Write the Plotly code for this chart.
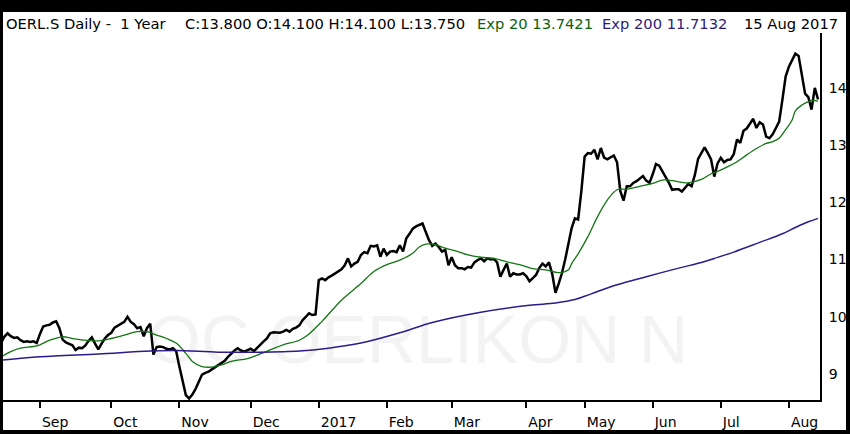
import pandas as pd
import plotly.graph_objects as go

# SIX trading days, 16 Aug 2016 - 15 Aug 2017
holidays = ["2016-12-26", "2017-01-02", "2017-04-14", "2017-04-17",
            "2017-05-01", "2017-05-25", "2017-06-05", "2017-08-01"]
days = pd.bdate_range("2016-08-16", "2017-08-15")
days = days[~days.isin(pd.to_datetime(holidays))]
dates = [d.strftime("%Y-%m-%d") for d in days]

# daily close (one list per month)
close_aug16 = [9.54, 9.65, 9.71, 9.66, 9.63, 9.64, 9.59, 9.56, 9.57, 9.56, 9.57, 9.54]
close_sep = [9.70, 9.83, 9.85, 9.86, 9.90, 9.92, 9.80, 9.60, 9.55, 9.53, 9.50, 9.42,
             9.46, 9.45, 9.50, 9.58, 9.64, 9.53, 9.43, 9.53, 9.62, 9.68]
close_oct = [9.72, 9.81, 9.84, 9.87, 9.91, 10.00, 9.91, 9.87, 9.80, 9.82, 9.66, 9.80,
             9.88, 9.34, 9.47, 9.48, 9.47, 9.44, 9.43, 9.45, 9.40]
close_nov = [9.13, 8.88, 8.63, 8.57, 8.64, 8.74, 8.86, 8.99, 9.02, 9.04, 9.08, 9.12,
             9.16, 9.20, 9.23, 9.30, 9.36, 9.41, 9.45, 9.41, 9.39, 9.42]
close_dec = [9.44, 9.40, 9.46, 9.52, 9.57, 9.62, 9.71, 9.73, 9.72, 9.72, 9.74, 9.77,
             9.74, 9.79, 9.81, 9.85, 9.94, 10.00, 10.06, 10.03, 10.04]
close_jan = [10.64, 10.67, 10.64, 10.69, 10.72, 10.76, 10.80, 10.83, 10.90, 11.02, 10.88,
             10.93, 10.96, 11.08, 11.13, 11.11, 11.24, 11.23, 11.25, 11.05, 11.19]
close_feb = [11.08, 11.14, 11.15, 11.13, 11.25, 11.14, 11.37, 11.45, 11.54, 11.58, 11.61,
             11.63, 11.48, 11.34, 11.24, 11.28, 11.22, 11.14, 11.17, 10.90]
close_mar = [11.04, 10.90, 10.85, 10.85, 10.83, 10.87, 10.86, 10.95, 10.99, 11.02, 10.97,
             11.02, 11.00, 11.01, 10.95, 10.70, 10.82, 10.93, 10.70, 10.76, 10.74, 10.74, 10.76]
close_apr = [10.71, 10.62, 10.68, 10.73, 10.85, 10.93, 10.88, 10.95, 10.75, 10.42, 10.58,
             10.76, 11.00, 11.30, 11.55, 11.72, 11.70, 12.20]
close_may = [12.80, 12.86, 12.85, 12.92, 12.75, 12.95, 12.78, 12.75, 12.78, 12.82, 12.70,
             12.20, 12.03, 12.28, 12.28, 12.34, 12.37, 12.42, 12.46, 12.38, 12.34]
close_jun = [12.49, 12.67, 12.64, 12.55, 12.44, 12.34, 12.22, 12.23, 12.23, 12.19, 12.26,
             12.32, 12.28, 12.48, 12.76, 12.85, 12.96, 12.86, 12.75, 12.45, 12.68]
close_jul = [12.78, 12.70, 12.74, 12.75, 12.84, 13.10, 13.04, 13.25, 13.29, 13.38, 13.46,
             13.30, 13.40, 13.36, 13.15, 13.12, 13.19, 13.30, 13.41, 13.79, 14.20]
close_aug17 = [14.37, 14.49, 14.60, 14.56, 14.25, 13.90, 13.84, 13.62, 14.00, 13.80]

close = (close_aug16 + close_sep + close_oct + close_nov + close_dec + close_jan
         + close_feb + close_mar + close_apr + close_may + close_jun + close_jul
         + close_aug17)

# moving averages, read at sampled trading days (index into dates)
ema20_day = [0, 3, 6, 10, 12, 15, 19, 22, 26, 30, 34, 38, 42, 45, 48, 51, 54, 57, 59, 62,
             65, 68, 71, 76, 79, 83, 87, 92, 95, 99, 105, 111, 115, 119, 123, 127, 129,
             131, 134, 137, 141, 144, 148, 152, 156, 160, 164, 168, 172, 175, 176, 178,
             181, 184, 187, 190, 193, 197, 201, 204, 207, 210, 212, 216, 219, 221, 224,
             227, 230, 233, 236, 238, 240, 242, 244, 245, 247, 249, 250, 252]
ema20 = [9.30, 9.39, 9.45, 9.48, 9.51, 9.59, 9.65, 9.62, 9.59, 9.58, 9.62, 9.68, 9.74, 9.74,
         9.68, 9.62, 9.54, 9.36, 9.22, 9.13, 9.12, 9.16, 9.22, 9.27, 9.33, 9.42, 9.51, 9.59,
         9.70, 9.92, 10.29, 10.58, 10.79, 10.91, 10.99, 11.11, 11.22, 11.27, 11.26, 11.20,
         11.14, 11.08, 11.04, 11.02, 10.96, 10.91, 10.84, 10.82, 10.77, 10.82, 10.93, 11.10,
         11.40, 11.75, 12.04, 12.22, 12.23, 12.28, 12.33, 12.39, 12.38, 12.35, 12.34, 12.40,
         12.50, 12.54, 12.62, 12.71, 12.83, 12.94, 13.03, 13.06, 13.12, 13.27, 13.44, 13.60,
         13.70, 13.76, 13.78, 13.77]

ema200_day = [0, 12, 30, 46, 54, 67, 78, 92, 101, 111, 123, 133, 148, 163, 171, 177, 182,
              190, 199, 209, 216, 220, 226, 234, 241, 245, 249, 252]
ema200 = [9.24, 9.30, 9.35, 9.40, 9.41, 9.38, 9.38, 9.40, 9.45, 9.54, 9.72, 9.90, 10.08,
          10.20, 10.24, 10.30, 10.40, 10.56, 10.70, 10.85, 10.95, 11.02, 11.13, 11.30, 11.45,
          11.56, 11.66, 11.72]

month_labels = ["Sep", "Oct", "Nov", "Dec", "2017", "Feb", "Mar", "Apr", "May", "Jun", "Jul", "Aug"]
month_starts = (pd.Series(days, index=days).groupby(days.to_period("M")).first()
                .dt.strftime("%Y-%m-%d").tolist()[1:])
y_ticks = [9, 10, 11, 12, 13, 14]

W, H = 850, 434
L, R, T, B = 3, 30, 33, 34
pw, ph = W - L - R, H - T - B


def px(x):
    return (x - L) / pw


def py(y):
    return (H - B - y) / ph


font = "DejaVu Sans"

fig = go.Figure()
fig.add_trace(go.Scatter(x=dates, y=close, mode="lines",
                         line=dict(color="#000000", width=2.5)))
fig.add_trace(go.Scatter(x=[dates[i] for i in ema20_day], y=ema20, mode="lines",
                         line=dict(color="#137513", width=1.3, shape="spline")))
fig.add_trace(go.Scatter(x=[dates[i] for i in ema200_day], y=ema200, mode="lines",
                         line=dict(color="#2e1a8c", width=1.5, shape="spline")))

header = [
    ("OERL.S Daily -  1 Year", 4, "#000000"),
    ("C:13.800 O:14.100 H:14.100 L:13.750", 183, "#000000"),
    ("Exp 20 13.7421", 475, "#0b610b"),
    ("Exp 200 11.7132", 600, "#2e1a7a"),
    ("15 Aug 2017", 742, "#000000"),
]
for text, x, col in header:
    fig.add_annotation(text=text, x=px(x), y=py(24), xref="paper", yref="paper",
                       xanchor="left", yanchor="middle", showarrow=False,
                       font=dict(family=font, size=14.7, color=col))

fig.update_layout(
    width=W, height=H, autosize=False,
    margin=dict(l=L, r=R, t=T, b=B),
    paper_bgcolor="#000000",
    plot_bgcolor="#ffffff",
    showlegend=False,
    shapes=[
        dict(type="rect", xref="paper", yref="paper", layer="below",
             x0=px(3), x1=px(846), y0=py(430), y1=py(12),
             fillcolor="#ffffff", line=dict(width=0)),
        dict(type="rect", xref="paper", yref="paper", layer="below",
             x0=px(130), x1=px(706), y0=py(370), y1=py(296),
             line=dict(width=0),
             label=dict(text="OC OERLIKON N", textposition="middle center",
                        font=dict(family="Liberation Sans", size=68, color="#f3f3f3"))),
    ],
    xaxis=dict(
        type="category", categoryorder="array", categoryarray=dates,
        range=[0.6, 252.6],
        tickvals=month_starts, ticktext=month_labels,
        ticks="outside", ticklen=6, tickwidth=2, tickcolor="#000000",
        ticklabelposition="outside right", ticklabelstandoff=8,
        showline=True, linecolor="#000000", linewidth=2,
        showgrid=False, zeroline=False,
        tickfont=dict(family=font, size=14, color="#000000"),
    ),
    yaxis=dict(
        side="right", range=[8.545, 14.96],
        tickvals=y_ticks, ticks="", ticklabelstandoff=4,
        showline=True, linecolor="#000000", linewidth=2,
        showgrid=False, zeroline=False,
        tickfont=dict(family=font, size=14, color="#000000"),
    ),
)

fig.write_html("out.html", config={"displayModeBar": False},
               post_script="document.body.style.margin = '0';")
